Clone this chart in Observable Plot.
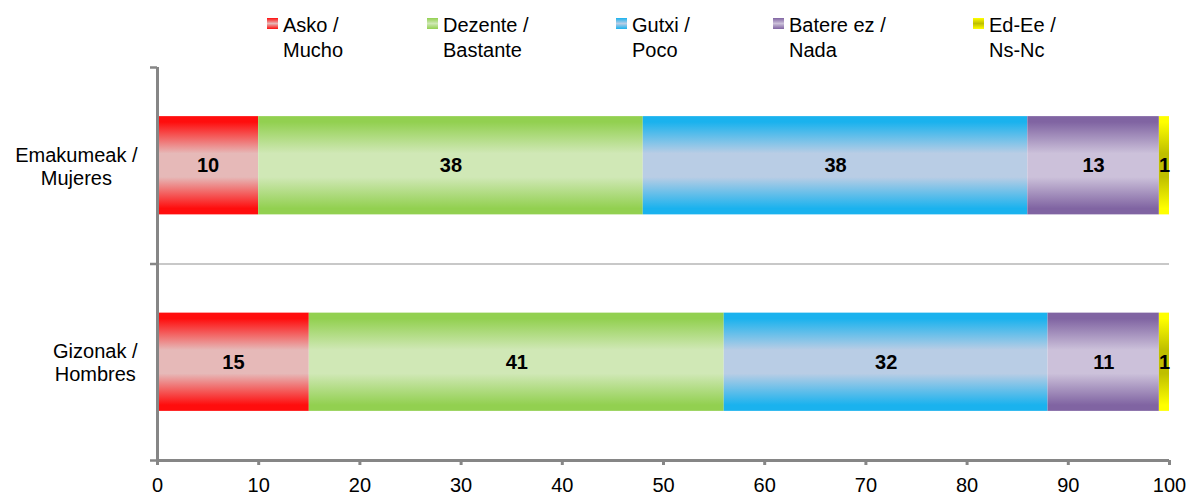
<!DOCTYPE html>
<html>
<head>
<meta charset="utf-8">
<script src="https://cdn.jsdelivr.net/npm/d3@7"></script>
<script src="https://cdn.jsdelivr.net/npm/@observablehq/plot@0.6"></script>
<style>
  body { margin: 0; background: #fff; font-family: "Liberation Sans", Arial, sans-serif; }
  #legend { position: relative; width: 1189px; height: 60px; }
  .sw { position: absolute; top: 18px; width: 11px; height: 11px; }
  .lt { position: absolute; top: 13px; font-size: 20px; line-height: 25px; white-space: pre; color: #000; }
  #chart svg { display: block; }
</style>
</head>
<body>
<div id="legend"></div>
<div id="chart"></div>
<script>
// ---- data ----
const categories = ["Emakumeak /\nMujeres", "Gizonak /\nHombres"];
const seriesNames = ["Asko /\nMucho", "Dezente /\nBastante", "Gutxi /\nPoco", "Batere ez /\nNada", "Ed-Ee /\nNs-Nc"];
const emakumeakValues = [10, 38, 38, 13, 1];
const gizonakValues = [15, 41, 32, 11, 1];
const xTicks = [0, 10, 20, 30, 40, 50, 60, 70, 80, 90, 100];
const edgeColors = ["#ff0d0d", "#92d050", "#1ab2ee", "#8064a2", "#ffff00"];
const midColors = ["#e6b9b8", "#d0e8b6", "#b9cde5", "#ccc1da", "#bfbf00"];
const legendX = [267, 427, 616, 773, 973];

// ---- table ----
const valuesByCat = [emakumeakValues, gizonakValues];
const rows = [];
valuesByCat.forEach((vals, ci) => {
  let acc = 0;
  vals.forEach((v, si) => {
    rows.push({cat: categories[ci], ci, series: seriesNames[si], si, value: v, x1: acc, x2: acc + v});
    acc += v;
  });
});
const catRows = categories.map((c, i) => ({c, i}));

// ---- legend ----
const legend = document.getElementById("legend");
seriesNames.forEach((s, i) => {
  const sw = document.createElement("div");
  sw.className = "sw";
  sw.style.left = legendX[i] + "px";
  sw.style.background = `linear-gradient(${edgeColors[i]} 0%, ${midColors[i]} 50%, ${edgeColors[i]} 100%)`;
  legend.appendChild(sw);
  const t = document.createElement("div");
  t.className = "lt";
  t.style.left = (legendX[i] + 16) + "px";
  t.textContent = s;
  legend.appendChild(t);
});

// measure category label widths
const ctx = document.createElement("canvas").getContext("2d");
ctx.font = '20px "Liberation Sans", Arial, sans-serif';
const catWidths = categories.map(c => Math.max(...c.split("\n").map(l => ctx.measureText(l).width)));

const axisGray = "#868686";
const font = '"Liberation Sans", Arial, sans-serif';

const svg = Plot.plot({
  width: 1189,
  height: 434,
  marginTop: 7,
  marginBottom: 34,
  marginLeft: 157,
  marginRight: 20,
  style: {fontFamily: font, fontSize: "20px", color: "#000", background: "transparent", overflow: "visible"},
  x: {domain: [0, 100]},
  y: {domain: [2, 0]},
  color: {domain: seriesNames, range: seriesNames.map((d, i) => `url(#grad${i})`)},
  marks: [
    Plot.ruleY([1], {stroke: "#c8c8c8", strokeWidth: 2}),
    Plot.rect(rows, {x1: "x1", x2: "x2", y1: d => d.ci + 0.25, y2: d => d.ci + 0.75, fill: "series"}),
    Plot.text(rows, {x: d => (d.x1 + d.x2) / 2, y: d => d.ci + 0.5, text: d => String(d.value),
      fontWeight: "bold", fontSize: 20, fill: "#000"}),
    ...categories.map((c, i) => Plot.text(catRows, {
      filter: d => d.i === i, x: () => 0, y: d => d.i + 0.5, text: "c",
      textAnchor: "middle", lineHeight: 1.15, fontSize: 20, fill: "#000",
      dx: -(20 + catWidths[i] / 2)
    })),
    Plot.ruleX([0], {stroke: axisGray, strokeWidth: 3}),
    Plot.ruleY([2], {stroke: axisGray, strokeWidth: 3}),
    Plot.axisY({ticks: [0, 1, 2], tickFormat: () => "", tickSize: 7, stroke: axisGray, strokeWidth: 2.5, label: null}),
    Plot.axisX({ticks: xTicks, tickFormat: d => String(d), tickSize: 5, tickPadding: 12,
      stroke: axisGray, strokeWidth: 3, fill: "#000", fontSize: 20, label: null})
  ]
});

// gradient definitions
const ns = "http://www.w3.org/2000/svg";
const defs = document.createElementNS(ns, "defs");
edgeColors.forEach((c, i) => {
  const g = document.createElementNS(ns, "linearGradient");
  g.setAttribute("id", "grad" + i);
  g.setAttribute("x1", "0"); g.setAttribute("y1", "0");
  g.setAttribute("x2", "0"); g.setAttribute("y2", "1");
  [[0, c], [0.06, c], [0.38, midColors[i]], [0.62, midColors[i]], [0.94, c], [1, c]].forEach(([o, col]) => {
    const s = document.createElementNS(ns, "stop");
    s.setAttribute("offset", o);
    s.setAttribute("stop-color", col);
    g.appendChild(s);
  });
  defs.appendChild(g);
});
svg.insertBefore(defs, svg.firstChild);
document.getElementById("chart").appendChild(svg);
</script>
</body>
</html>
